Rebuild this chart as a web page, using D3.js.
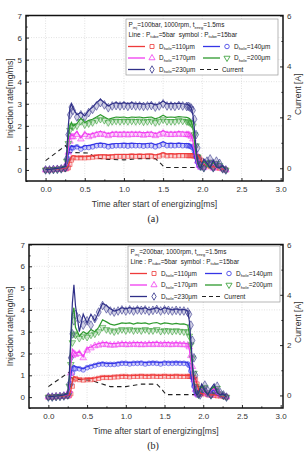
<!DOCTYPE html>
<html>
<head>
<meta charset="utf-8">
<script src="https://cdn.jsdelivr.net/npm/d3@7"></script>
<style>
body { margin: 0; background: #fff; }
svg { display: block; font-family: "Liberation Sans", Arial, sans-serif; }
</style>
</head>
<body>
<div id="chart"></div>
<script>
// time grid shared by all injection-rate traces [ms]
var times = [0,0.05,0.1,0.15,0.2,0.25,0.27,0.29,0.31,0.33,0.35,
  0.4,0.45,0.5,0.55,0.6,0.65,0.7,0.75,0.8,0.85,0.9,0.95,1.0,1.05,1.1,1.15,1.2,1.25,1.3,1.35,1.4,1.45,1.5,1.55,1.6,1.65,1.7,1.75,1.8,
  1.82,1.84,1.86,1.88,1.9,1.92,1.94,1.96,1.98,
  2.02,2.06,2.1,2.14,2.18,2.22,2.26,2.3];

var holes = [110, 140, 170, 200, 230];
var xTicks = [0, 0.5, 1.0, 1.5, 2.0, 2.5, 3.0];
var yTicks = [0, 1, 2, 3, 4, 5, 6, 7];
var y2Ticks = [0, 2, 4, 6];

// ---- (a) Pinj = 100 bar ----  line = Ptube 5bar, symbol = Ptube 15bar
var a110L = [0.02,0.03,0.04,0.05,0.06,0.08,0.1,0.2,0.4,0.6,0.65,
  0.6,0.62,0.6,0.62,0.64,0.66,0.68,0.68,0.66,0.68, 0.7,0.7,0.7,0.7,0.72,0.7,0.72,0.7,0.72,0.72, 0.68,0.72,0.78,0.72,0.74,0.72,0.74,0.74,0.74,
  0.74,0.74,0.74,0.73,0.72,0.7,0.68,0.6,0.45,
  0.25,0.2,0.15,0.15,0.1,0.08,0.05,0.0];
var a110S = [0,0,0.02,0.03,0.04,0.05,0.06,0.1,0.25,0.45,0.55,
  0.55,0.55,0.55,0.56,0.58,0.6,0.6,0.6,0.6,0.6, 0.62,0.62,0.62,0.62,0.63,0.62,0.63,0.62,0.63,0.63, 0.6,0.63,0.68,0.64,0.65,0.64,0.65,0.65,0.65,
  0.65,0.65,0.65,0.64,0.63,0.62,0.6,0.55,0.45,
  0.3,0.2,0.15,0.12,0.1,0.08,0.05,0.0];
var a140L = [0.02,0.03,0.05,0.07,0.1,0.1,0.3,0.7,1.0,1.1,1.05,
  1.1,1.0,1.1,1.1,1.15,1.2,1.22,1.2,1.15,1.18, 1.2,1.2,1.22,1.2,1.22,1.2,1.2,1.18,1.2,1.22, 1.15,1.2,1.28,1.2,1.22,1.2,1.22,1.2,1.2,
  1.2,1.17,1.1,0.95,0.65,0.35,0.15,0.1,0.1,
  0.4,0.2,0.1,0.35,0.12,0.08,0.12,0.0];
var a140S = [0,0,0.02,0.03,0.05,0.05,0.2,0.5,0.85,1.0,1.0,
  1.05,0.95,1.02,1.02,1.05,1.1,1.12,1.1,1.05,1.08, 1.1,1.1,1.1,1.08,1.1,1.1,1.1,1.08,1.1,1.1, 1.05,1.1,1.16,1.1,1.1,1.1,1.12,1.1,1.1,
  1.1,1.08,1.05,1.0,0.85,0.6,0.35,0.18,0.1,
  0.1,0.3,0.3,0.08,0.25,0.2,0.05,0.0];
var a170L = [0.02,0.03,0.05,0.07,0.1,0.12,0.4,1.0,1.5,1.6,1.55,
  1.75,1.45,1.7,1.6,1.65,1.7,1.75,1.7,1.65,1.7, 1.72,1.7,1.72,1.7,1.72,1.7,1.72,1.68,1.7,1.72, 1.65,1.7,1.78,1.7,1.72,1.7,1.74,1.72,1.7,
  1.7,1.66,1.55,1.3,0.9,0.5,0.2,0.1,0.1,
  0.35,0.2,0.1,0.3,0.1,0.08,0.12,0.0];
var a170S = [0,0,0.02,0.03,0.05,0.07,0.3,0.8,1.3,1.5,1.5,
  1.6,1.4,1.6,1.5,1.55,1.6,1.62,1.6,1.55,1.6, 1.6,1.58,1.6,1.58,1.6,1.6,1.6,1.57,1.6,1.6, 1.55,1.6,1.66,1.6,1.6,1.6,1.62,1.6,1.6,
  1.6,1.57,1.52,1.4,1.1,0.75,0.4,0.2,0.12,
  0.1,0.25,0.3,0.08,0.25,0.15,0.05,0.0];
var a200L = [0.02,0.03,0.05,0.07,0.1,0.15,0.6,1.5,2.0,2.15,2.0,
  2.1,2.35,2.15,2.25,2.3,2.4,2.5,2.4,2.3,2.35, 2.4,2.38,2.4,2.36,2.4,2.38,2.4,2.36,2.38,2.4, 2.32,2.38,2.48,2.38,2.4,2.38,2.42,2.4,2.38,
  2.36,2.32,2.2,1.9,1.3,0.7,0.3,0.12,0.1,
  0.4,0.2,0.1,0.35,0.12,0.08,0.15,0.0];
var a200S = [0,0,0.02,0.03,0.05,0.08,0.4,1.2,1.8,2.0,1.95,
  2.0,2.2,2.05,2.1,2.15,2.25,2.3,2.25,2.15,2.2, 2.22,2.2,2.22,2.2,2.22,2.2,2.22,2.18,2.2,2.22, 2.15,2.2,2.28,2.2,2.2,2.2,2.24,2.22,2.2,
  2.18,2.15,2.1,2.0,1.6,1.1,0.6,0.3,0.15,
  0.1,0.3,0.35,0.1,0.3,0.2,0.05,0.0];
var a230L = [0.02,0.03,0.05,0.07,0.1,0.15,0.8,2.0,2.8,3.0,2.8,
  2.5,2.6,2.45,2.7,2.85,3.05,3.2,3.05,2.9,3.0, 3.05,3.0,3.05,3.0,3.05,3.0,3.02,2.98,3.0,3.03, 2.95,3.0,3.12,3.0,3.02,3.0,3.03,3.0,2.98,
  2.95,2.9,2.8,2.5,1.8,1.0,0.4,0.15,0.1,
  0.5,0.3,0.1,0.45,0.15,0.1,0.2,0.0];
var a230S = [0,0,0.02,0.03,0.05,0.1,0.5,1.6,2.5,2.85,2.7,
  2.4,2.5,2.4,2.6,2.75,2.9,3.05,2.95,2.82,2.9, 2.92,2.9,2.92,2.88,2.92,2.9,2.9,2.88,2.9,2.92, 2.85,2.9,3.0,2.9,2.9,2.88,2.92,2.9,2.88,
  2.88,2.85,2.8,2.7,2.3,1.6,1.0,0.5,0.2,
  0.1,0.4,0.5,0.1,0.4,0.3,0.05,0.0];
var curTimesA = [0, 0.26, 0.29, 0.55, 0.65, 0.8, 1.0, 1.2, 1.4, 1.45, 1.52, 1.92];
var curA = [0.3, 0.9, 0.62, 0.6, 0.4, 0.35, 0.33, 0.38, 0.38, 0.25, 0.03, 0.03];

// ---- (b) Pinj = 200 bar ----
var b110L = [0.02,0.03,0.04,0.05,0.06,0.08,0.1,0.3,0.7,0.95,0.9,
  0.85,0.82,0.85,0.85,0.88,0.92,0.95,0.95,0.95,0.97, 0.98,1.0,1.0,0.98,1.0,1.0,1.02,1.0,1.0,1.02, 1.0,1.0,1.02,1.0,1.0,1.02,1.0,1.0,1.0,
  1.0,1.0,0.98,0.95,0.85,0.6,0.35,0.2,0.15,
  0.15,0.12,0.1,0.1,0.08,0.05,0.05,0.0];
var b110S = [0,0,0.02,0.03,0.04,0.05,0.06,0.15,0.5,0.8,0.85,
  0.8,0.78,0.8,0.8,0.82,0.86,0.9,0.9,0.9,0.92, 0.93,0.95,0.95,0.93,0.95,0.95,0.96,0.95,0.95,0.96, 0.95,0.95,0.96,0.95,0.95,0.96,0.95,0.95,0.95,
  0.95,0.95,0.93,0.9,0.8,0.6,0.4,0.25,0.15,
  0.15,0.1,0.1,0.08,0.06,0.05,0.03,0.0];
var b140L = [0.02,0.03,0.05,0.07,0.1,0.1,0.4,1.0,1.4,1.45,1.4,
  1.35,1.3,1.4,1.45,1.5,1.55,1.58,1.55,1.55,1.55, 1.58,1.6,1.6,1.58,1.6,1.6,1.62,1.58,1.6,1.62, 1.6,1.58,1.62,1.6,1.6,1.62,1.6,1.6,1.58,
  1.4,1.0,0.6,0.3,0.1,0.1,0.15,0.3,0.4,
  0.2,0.1,0.25,0.35,0.12,0.08,0.1,0.0];
var b140S = [0,0,0.02,0.03,0.05,0.05,0.2,0.6,1.1,1.3,1.3,
  1.3,1.25,1.35,1.4,1.45,1.5,1.52,1.5,1.5,1.5, 1.52,1.55,1.55,1.52,1.55,1.55,1.56,1.52,1.55,1.56, 1.55,1.52,1.56,1.55,1.55,1.56,1.55,1.55,1.52,
  1.45,1.2,0.9,0.5,0.25,0.1,0.1,0.2,0.3,
  0.3,0.12,0.08,0.2,0.25,0.1,0.05,0.0];
var b170L = [0.02,0.03,0.05,0.07,0.1,0.12,0.5,1.5,2.2,2.1,2.0,
  2.1,1.85,2.25,2.3,2.4,2.45,2.5,2.5,2.45,2.45, 2.48,2.5,2.5,2.48,2.5,2.5,2.5,2.48,2.5,2.5, 2.52,2.48,2.5,2.5,2.48,2.5,2.48,2.48,2.45,
  2.2,1.6,1.0,0.45,0.15,0.1,0.15,0.3,0.45,
  0.2,0.1,0.3,0.4,0.15,0.1,0.1,0.0];
var b170S = [0,0,0.02,0.03,0.05,0.07,0.3,1.1,1.9,2.0,1.95,
  2.0,1.8,2.15,2.25,2.35,2.38,2.42,2.4,2.38,2.38, 2.4,2.42,2.4,2.4,2.42,2.4,2.4,2.4,2.42,2.4, 2.42,2.4,2.42,2.4,2.4,2.42,2.4,2.4,2.38,
  2.3,1.9,1.4,0.8,0.35,0.15,0.1,0.2,0.35,
  0.35,0.15,0.1,0.25,0.3,0.1,0.05,0.0];
var b200L = [0.02,0.03,0.05,0.07,0.1,0.15,0.8,2.5,3.8,4.1,3.2,
  2.8,3.0,2.9,3.1,3.0,3.2,3.55,3.45,3.35,3.3, 3.35,3.4,3.38,3.4,3.35,3.4,3.38,3.4,3.35,3.4, 3.42,3.35,3.4,3.38,3.35,3.38,3.35,3.36,3.3,
  2.9,2.2,1.4,0.6,0.2,0.1,0.15,0.35,0.5,
  0.25,0.1,0.35,0.5,0.2,0.1,0.1,0.0];
var b200S = [0,0,0.02,0.03,0.05,0.08,0.5,1.5,2.5,2.9,2.85,
  2.7,2.8,2.75,2.85,2.9,3.0,3.2,3.1,3.05,3.0, 3.05,3.1,3.05,3.1,3.05,3.08,3.05,3.1,3.05,3.05, 3.1,3.02,3.05,3.05,3.02,3.05,3.02,3.0,3.0,
  2.8,2.4,1.8,1.1,0.5,0.2,0.1,0.2,0.4,
  0.45,0.2,0.1,0.3,0.4,0.15,0.05,0.0];
var b230L = [0.02,0.03,0.05,0.07,0.1,0.15,1.0,2.8,4.3,5.15,4.2,
  3.0,3.8,3.4,3.8,3.5,3.9,4.3,4.2,4.05,3.95, 4.0,4.1,4.05,4.1,4.05,4.1,4.05,4.1,4.0,4.05, 4.1,4.0,4.1,4.05,4.0,4.05,4.0,4.02,3.95,
  3.5,2.6,1.6,0.7,0.2,0.1,0.2,0.4,0.6,
  0.3,0.1,0.4,0.6,0.2,0.1,0.15,0.0];
var b230S = [0,0,0.02,0.03,0.05,0.1,0.6,1.8,2.9,3.5,3.8,
  3.6,3.3,3.5,3.3,3.6,3.9,4.2,4.05,3.95,3.9, 3.95,4.0,3.95,4.0,3.95,4.0,3.98,4.0,3.95,3.98, 4.02,3.95,4.0,3.98,3.95,3.98,3.95,3.95,3.9,
  3.8,3.3,2.6,1.8,1.0,0.4,0.15,0.1,0.3,
  0.55,0.3,0.1,0.3,0.5,0.2,0.1,0.0];
var curTimesB = [0, 0.28, 0.31, 0.55, 0.65, 0.8, 1.0, 1.2, 1.4, 1.45, 1.52, 1.9];
var curB = [0.35, 0.95, 0.65, 0.6, 0.5, 0.35, 0.35, 0.45, 0.45, 0.3, 0.03, 0.03];

// styles per hole size
var colors = ["#ee3b3b", "#3535e6", "#f03cf0", "#2e9a2e", "#2f2f88"];
var symbols = [d3.symbolSquare, d3.symbolCircle, d3.symbolTriangle, d3.symbolTriangle, d3.symbolDiamond];
var symRot = [0, 0, 0, 180, 0];
var symSize = [18, 18, 19, 19, 22];

var svg = d3.select("#chart").append("svg").attr("width", 305).attr("height", 452);

// text with subscripts: parts = [[text, isSub], ...]
function rich(g, x, y, parts, size) {
  var t = g.append("text").attr("x", x).attr("y", y).attr("font-size", size)
    .style("white-space", "pre").attr("fill", "#222");
  var prevSub = false;
  parts.forEach(function(p) {
    var s = t.append("tspan").text(p[0]);
    if (p[1]) s.attr("font-size", size * 0.68).attr("dy", 1.6);
    else if (prevSub) s.attr("dy", -1.6);
    prevSub = !!p[1];
  });
  return t;
}

function panel(p) {
  var g = svg.append("g");
  var x = d3.scaleLinear().domain([-0.25, 3.03]).range([p.left, p.right]);
  var y = d3.scaleLinear().domain([-0.5, 7]).range([p.bottom, p.top]);
  var y2 = d3.scaleLinear().domain([-0.5, 6]).range([p.bottom, p.top]);

  // grid
  g.append("g").selectAll("line").data(xTicks.slice(0, 6)).enter().append("line")
    .attr("x1", d => x(d)).attr("x2", d => x(d)).attr("y1", p.top).attr("y2", p.bottom)
    .attr("stroke", "#cfcfcf").attr("stroke-width", 0.6).attr("stroke-dasharray", "1,1.5");
  g.append("g").selectAll("line").data(yTicks.slice(1, 7)).enter().append("line")
    .attr("y1", d => y(d)).attr("y2", d => y(d)).attr("x1", p.left).attr("x2", p.right)
    .attr("stroke", "#cfcfcf").attr("stroke-width", 0.6).attr("stroke-dasharray", "1,1.5");

  // current (right axis)
  var curLine = d3.line().x((d, i) => x(p.curT[i])).y(d => y2(d));
  g.append("path").datum(p.cur).attr("d", curLine).attr("fill", "none")
    .attr("stroke", "#222").attr("stroke-width", 1.1).attr("stroke-dasharray", "4.5,3.5");

  // symbol series (Ptube = 15 bar)
  p.sym.forEach(function(arr, k) {
    var sym = d3.symbol().type(symbols[k]).size(symSize[k]);
    g.append("g").selectAll("path").data(arr).enter().append("path")
      .attr("d", sym)
      .attr("transform", (d, i) => "translate(" + x(times[i]) + "," + y(d) + ") rotate(" + symRot[k] + ")")
      .attr("fill", colors[k]).attr("fill-opacity", 0.22)
      .attr("stroke", colors[k]).attr("stroke-opacity", 0.7).attr("stroke-width", 0.8);
  });

  // line series (Ptube = 5 bar)
  var line = d3.line().x((d, i) => x(times[i])).y(d => y(d));
  p.lines.forEach(function(arr, k) {
    g.append("path").datum(arr).attr("d", line).attr("fill", "none")
      .attr("stroke", colors[k]).attr("stroke-width", 1.2);
  });

  // axes
  g.append("g").attr("transform", "translate(0," + p.bottom + ")")
    .call(d3.axisBottom(x).tickValues(xTicks).tickFormat(d3.format(".1f")).tickSizeInner(-3).tickSizeOuter(0).tickPadding(5));
  g.append("g").attr("transform", "translate(0," + p.bottom + ")")
    .call(d3.axisBottom(x).tickValues(d3.range(0.25, 3, 0.5)).tickFormat("").tickSizeInner(-1.6).tickSizeOuter(0));
  g.append("g").attr("transform", "translate(" + p.left + ",0)")
    .call(d3.axisLeft(y).tickValues(yTicks).tickFormat(d3.format("d")).tickSizeInner(-3).tickSizeOuter(0).tickPadding(4));
  g.append("g").attr("transform", "translate(" + p.left + ",0)")
    .call(d3.axisLeft(y).tickValues(d3.range(-0.5, 7, 1)).tickFormat("").tickSizeInner(-1.6).tickSizeOuter(0));
  g.append("g").attr("transform", "translate(" + p.right + ",0)")
    .call(d3.axisRight(y2).tickValues(y2Ticks).tickFormat(d3.format("d")).tickSizeInner(-3).tickSizeOuter(0).tickPadding(4));
  g.append("g").attr("transform", "translate(" + p.right + ",0)")
    .call(d3.axisRight(y2).tickValues([1, 3, 5]).tickFormat("").tickSizeInner(-1.6).tickSizeOuter(0));
  g.selectAll(".domain").remove();
  g.selectAll(".tick line").attr("stroke", "#111").attr("stroke-width", 0.9);
  g.selectAll(".tick text").attr("font-size", 8).attr("fill", "#333")
    .attr("font-family", "'Liberation Sans', Arial, sans-serif");

  // frame
  g.append("rect").attr("x", p.left).attr("y", p.top)
    .attr("width", p.right - p.left).attr("height", p.bottom - p.top)
    .attr("fill", "none").attr("stroke", "#111").attr("stroke-width", 1.5);

  // axis titles
  g.append("text").attr("x", (p.left + p.right) / 2).attr("y", p.bottom + 26)
    .attr("text-anchor", "middle").attr("font-size", 8.6).attr("fill", "#333")
    .text("Time after start of energizing[ms]");
  g.append("text").attr("transform", "translate(" + 13 + "," + ((p.top + p.bottom) / 2) + ") rotate(-90)")
    .attr("text-anchor", "middle").attr("font-size", 8.6).attr("fill", "#333")
    .text("Injection rate[mg/ms]");
  g.append("text").attr("transform", "translate(" + 301 + "," + ((p.top + p.bottom) / 2 - 4) + ") rotate(-90)")
    .attr("text-anchor", "middle").attr("font-size", 8.6).attr("fill", "#333")
    .text("Current [A]");
  g.append("text").attr("x", 153).attr("y", p.bottom + 41)
    .attr("text-anchor", "middle").attr("font-size", 10).attr("font-family", "'Liberation Serif', serif")
    .attr("fill", "#222").text(p.caption);

  // legend
  var lg = g.append("g").attr("transform", "translate(" + p.lx + "," + p.ly + ")");
  lg.append("rect").attr("width", 152).attr("height", 56).attr("fill", "#fff")
    .attr("stroke", "#999").attr("stroke-width", 0.7);
  var fs = 6.4;
  rich(lg, 2.5, 8, [["P"], ["inj", 1], ["=" + p.pinj + "bar, 1000rpm, t"], ["enrg", 1], ["=1.5ms"]], fs);
  rich(lg, 2.5, 17.5, [["Line : P"], ["tube", 1], ["=5bar  symbol : P"], ["tube", 1], ["=15bar"]], fs);
  var rowY = [27.5, 39, 50.5];
  holes.forEach(function(h, k) {
    var row = Math.floor(k / 2), col = k % 2;
    var ox = col === 0 ? 0 : 75, cy = rowY[row];
    lg.append("line").attr("x1", ox + 2).attr("x2", ox + 19).attr("y1", cy).attr("y2", cy)
      .attr("stroke", colors[k]).attr("stroke-width", 1.3);
    lg.append("path").attr("d", d3.symbol().type(symbols[k]).size(16))
      .attr("transform", "translate(" + (ox + 26) + "," + cy + ") rotate(" + symRot[k] + ")")
      .attr("fill", "none").attr("stroke", colors[k]).attr("stroke-width", 0.8);
    rich(lg, ox + 33, cy + 2.2, [["D"], ["hole", 1], ["=" + h + "\u03bcm"]], fs);
  });
  lg.append("line").attr("x1", 74).attr("x2", 92).attr("y1", rowY[2]).attr("y2", rowY[2])
    .attr("stroke", "#222").attr("stroke-width", 1.1).attr("stroke-dasharray", "4,3");
  rich(lg, 96, rowY[2] + 2.2, [["Current"]], fs);
}

panel({left: 26, right: 283, top: 15.5, bottom: 181, lx: 126, ly: 19, pinj: 100, caption: "(a)",
  lines: [a110L, a140L, a170L, a200L, a230L], sym: [a110S, a140S, a170S, a200S, a230S],
  curT: curTimesA, cur: curA});
panel({left: 29, right: 283, top: 244.5, bottom: 408, lx: 128, ly: 246, pinj: 200, caption: "(b)",
  lines: [b110L, b140L, b170L, b200L, b230L], sym: [b110S, b140S, b170S, b200S, b230S],
  curT: curTimesB, cur: curB});
</script>
</body>
</html>
